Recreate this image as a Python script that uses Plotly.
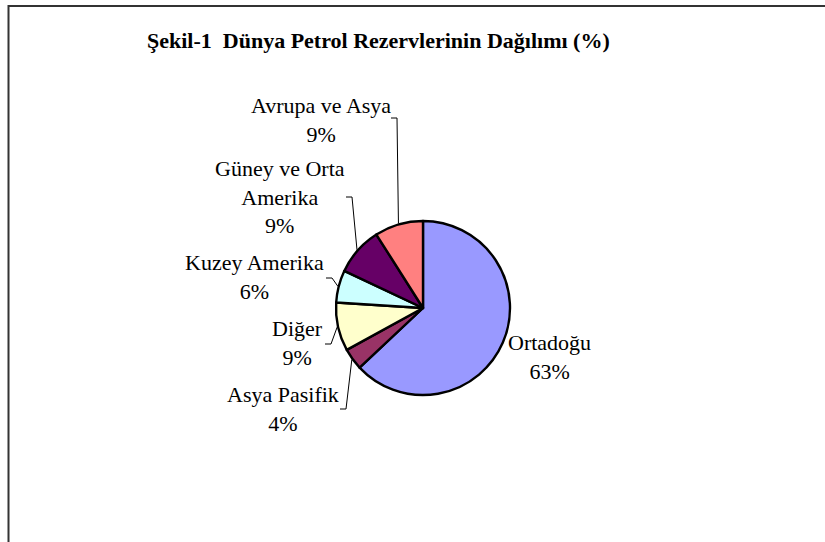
import math
import plotly.graph_objects as go

# ---- data ----
regions = ["Ortadoğu", "Asya Pasifik", "Diğer", "Kuzey Amerika",
           "Güney ve Orta<br>Amerika", "Avrupa ve Asya"]
shares = [63, 4, 9, 6, 9, 9]
colors = ["#9999FF", "#993366", "#FFFFCC", "#CCFFFF", "#660066", "#FF8080"]
title_text = "Şekil-1  Dünya Petrol Rezervlerinin Dağılımı (%)"

# ---- layout (pixels) ----
W, H = 825, 542
CX, CY, R = 423, 308, 87
# label block centre (x, y) and leader elbow (x, y) or None
label_layout = [
    ((549, 357), None),
    ((283, 409), (346, 409)),
    ((297, 343), (331, 344)),
    ((254, 277), (332, 278)),
    ((280, 197), (352, 197)),
    ((321, 120), (397, 118)),
]

def px(x):
    return x / W

def py(y):
    return 1 - y / H

fig = go.Figure()
fig.add_trace(go.Pie(
    labels=regions, values=shares, sort=False, direction="clockwise",
    rotation=0, textinfo="none", hoverinfo="skip", showlegend=False,
    marker=dict(colors=colors, line=dict(color="black", width=2.4)),
    domain=dict(x=[px(CX - R), px(CX + R)], y=[py(CY + R), py(CY - R)]),
))

total = sum(shares)
annotations = []
shapes = []
cum = 0
FONT = "Liberation Serif, Times New Roman, serif"
for name, v, (lab, elbow) in zip(regions, shares, label_layout):
    mid = (cum + v / 2) / total * 2 * math.pi
    cum += v
    pct = round(v / total * 100)
    annotations.append(dict(
        x=px(lab[0]), y=py(lab[1]), xref="paper", yref="paper",
        text=f"{name}<br>{pct}%", showarrow=False,
        xanchor="center", yanchor="middle",
        font=dict(family=FONT, size=22, color="black"),
    ))
    if elbow is not None:
        ex = CX + (R + 1) * math.sin(mid)
        ey = CY - (R + 1) * math.cos(mid)
        path = (f"M {px(elbow[0] - 6)} {py(elbow[1])} "
                f"L {px(elbow[0])} {py(elbow[1])} "
                f"L {px(ex)} {py(ey)}")
        shapes.append(dict(type="path", xref="paper", yref="paper",
                           path=path, line=dict(color="black", width=1)))

annotations.append(dict(
    x=px(378), y=py(40), xref="paper", yref="paper", text=f"<b>{title_text}</b>",
    showarrow=False, xanchor="center", yanchor="middle",
    font=dict(family=FONT, size=22, color="black"),
))

shapes.append(dict(type="rect", xref="paper", yref="paper",
                   x0=px(8.5), y0=py(6), x1=px(W + 20), y1=py(H + 20),
                   line=dict(color="#333333", width=2)))

fig.update_layout(
    width=W, height=H, margin=dict(l=0, r=0, t=0, b=0),
    paper_bgcolor="white", plot_bgcolor="white",
    annotations=annotations, shapes=shapes,
)

fig.write_html("out.html", config={"displayModeBar": False},
               post_script="document.body.style.margin='0';document.body.style.overflow='hidden';")
